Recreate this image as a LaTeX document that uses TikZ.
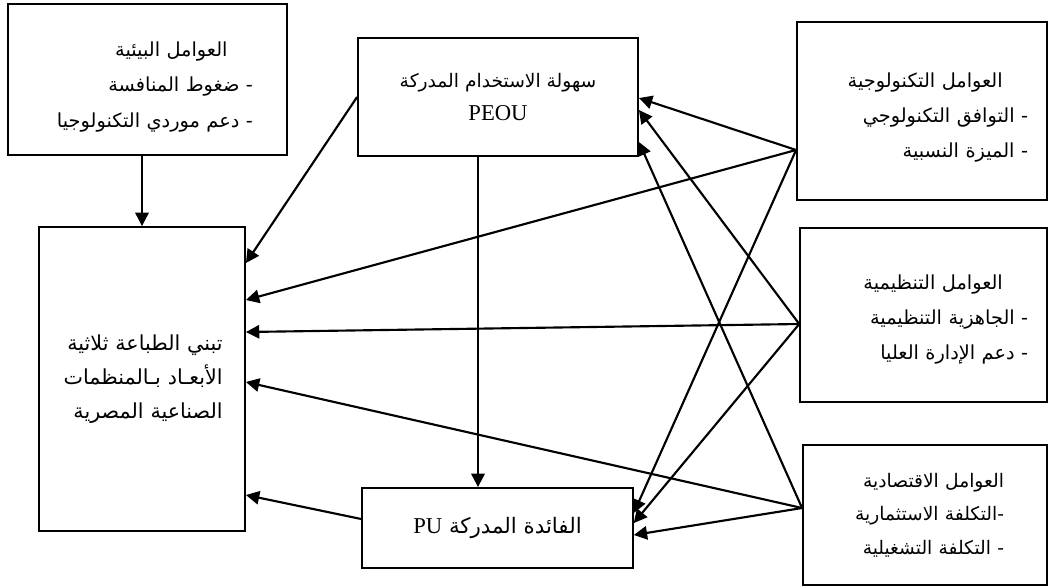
\documentclass[tikz,border=0pt]{standalone}
\usepackage{fontspec}
\setmainfont{Liberation Serif}
\newfontfamily\arabicfont[Script=Arabic]{DejaVu Sans}
\usetikzlibrary{calc,arrows.meta}
\TeXXeTstate=1

\begin{document}
\begin{tikzpicture}[x=0.75pt, y=-0.75pt,
    box/.style={rectangle, draw=black, line width=1.4pt, inner sep=0pt,
                align=right, font=\arabicfont\fontsize{14.5}{26.5}\selectfont},
    core/.style={rectangle, draw=black, line width=1.4pt, inner sep=0pt,
                 align=center, font=\arabicfont\fontsize{14}{25}\selectfont},
    arr/.style={-{Triangle[length=10pt,width=10pt]}, line width=1.6pt}]

    \useasboundingbox (0,0) rectangle (1049,587);

    % Factor boxes
    \node[box, minimum width=209pt, minimum height=113pt, text width=158pt]
        (env) at (147.5,79.5) {\hbox{\rule{0pt}{22pt}\beginR العوامل البيئية\endR\kern19pt}\\
                               \beginR -\ ضغوط المنافسة\endR\\
                               \beginR -\ دعم موردي التكنولوجيا\endR};
    \node[box, minimum width=187.5pt, minimum height=133.5pt, text width=159pt]
        (tech) at (922,111) {\hbox{\rule{0pt}{21pt}\beginR العوامل التكنولوجية\endR\kern19pt}\\
                             \beginR -\ التوافق التكنولوجي\endR\\
                             \beginR -\ الميزة النسبية\endR};
    \node[box, minimum width=185pt, minimum height=130.5pt, text width=157pt]
        (org) at (923.5,315) {\hbox{\rule{0pt}{18pt}\beginR العوامل التنظيمية\endR\kern19pt}\\
                              \beginR -\ الجاهزية التنظيمية\endR\\
                              \beginR -\ دعم الإدارة العليا\endR};
    \node[box, minimum width=183pt, minimum height=105pt, text width=118.5pt,
          font=\arabicfont\fontsize{14}{25}\selectfont]
        (econ) at (925,515) {\beginR العوامل الاقتصادية\endR\\
                             \beginR -التكلفة الاستثمارية\endR\\
                             \beginR -\ التكلفة التشغيلية\endR};

    % Core constructs
    \node[core, minimum width=210pt, minimum height=88.5pt]
        (peou) at (498,97) {\beginR سهولة الاستخدام المدركة\endR\\
                            {\rmfamily\fontsize{17}{25}\selectfont PEOU}};
    \node[core, minimum width=203pt, minimum height=60pt,
          font=\arabicfont\fontsize{16}{25}\selectfont]
        (pu) at (497.5,528) {\beginR الفائدة المدركة \beginL{\rmfamily\fontsize{17}{25}\selectfont PU}\endL\endR};
    \node[core, align=right, minimum width=154.5pt, minimum height=228pt, text width=121pt,
          font=\arabicfont\fontsize{15.5}{25.5}\selectfont]
        (adopt) at (142,379) {\beginR تبني الطباعة ثلاثية\endR\\
                              \beginR الأبعـاد بـالمنظمات\endR\\
                              \beginR الصناعية المصرية\endR};

    % Environmental factors
    \draw[arr] (env.south -| adopt.north) -- (adopt.north);

    % PEOU and PU
    \draw[arr] (peou.west) -- ($(adopt.east)+(0,-116)$);
    \draw[arr] ($(peou.south)+(-20,0)$) coordinate (pp) -- (pp |- pu.north);
    \draw[arr] ($(pu.west)+(0,-9)$) -- ($(adopt.east)+(0,116)$);

    % Technological factors
    \coordinate (techout) at ($(tech.west)+(0,39)$);
    \draw[arr] (techout) -- ($(peou.east)+(0,1)$);
    \draw[arr] (techout) -- ($(adopt.east)+(0,-79)$);
    \draw[arr] (techout) -- ($(pu.east)+(0,-15)$);

    % Organizational factors
    \coordinate (orgout) at ($(org.west)+(0,9)$);
    \draw[arr] (orgout) -- ($(peou.east)+(0,13)$);
    \draw[arr] (orgout) -- ($(adopt.east)+(0,-47)$);
    \draw[arr] (orgout) -- ($(pu.east)+(0,-5)$);

    % Economic factors
    \coordinate (econout) at ($(econ.west)+(0,-7)$);
    \draw[arr] (econout) -- ($(peou.east)+(0,45)$);
    \draw[arr] (econout) -- ($(adopt.east)+(0,3)$);
    \draw[arr] (econout) -- ($(pu.east)+(0,7)$);
\end{tikzpicture}
\end{document}
